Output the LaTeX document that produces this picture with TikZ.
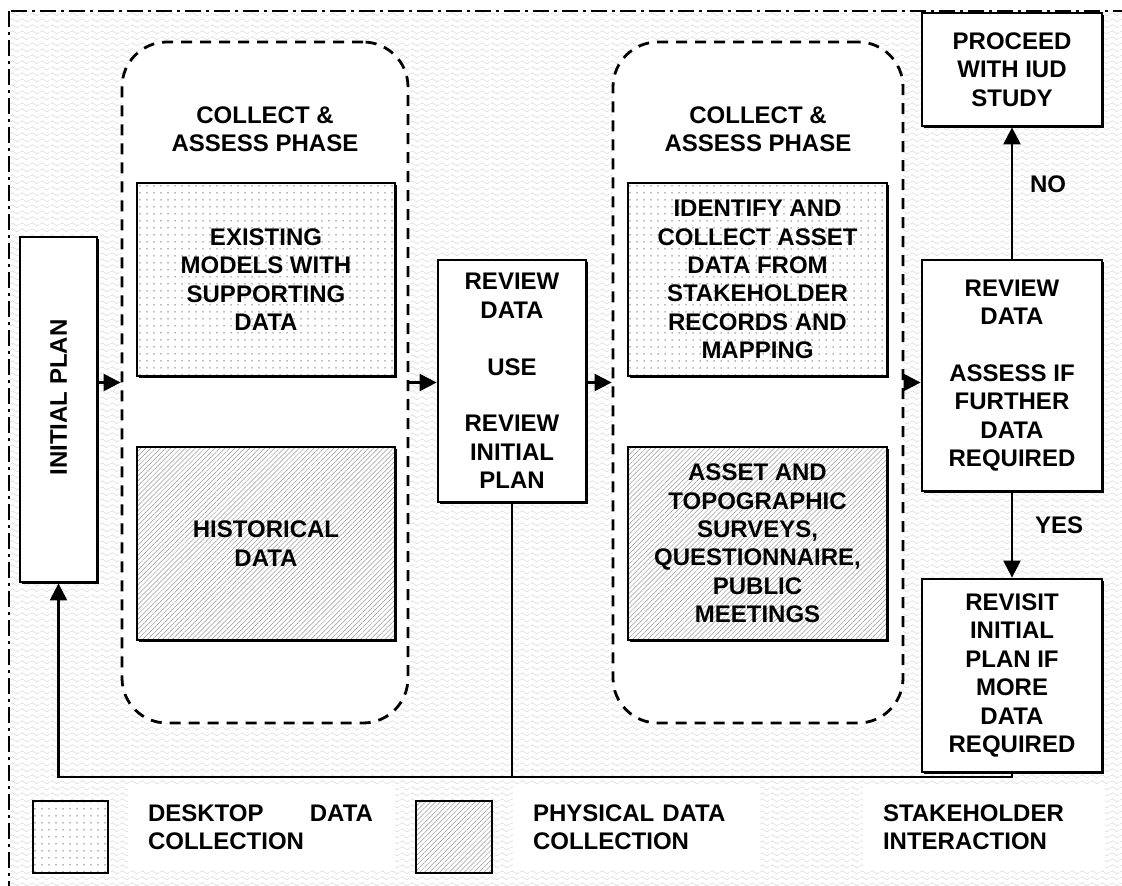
\documentclass[tikz,border=0pt]{standalone}
\usepackage{fontspec}
\usepackage{graphicx}
\setmainfont{Liberation Sans}
\usetikzlibrary{patterns,patterns.meta,arrows.meta,shadows,calc}

\tikzdeclarepattern{
  name=wavy, type=uncolored,
  bounding box={(0pt,0pt) and (10pt,6pt)},
  tile size={(10pt,6pt)},
  code={\draw[line width=0.45pt] (0pt,2pt) .. controls (2.5pt,4.5pt) and (2.5pt,4.5pt) .. (5pt,2pt) .. controls (7.5pt,-0.5pt) and (7.5pt,-0.5pt) .. (10pt,2pt);}
}

\tikzset{
  every node/.style={font=\bfseries\fontsize{24}{28.4}\selectfont, align=center, inner sep=0pt},
  boxbase/.style={draw, line width=2.8pt,
    drop shadow={shadow xshift=1.6pt, shadow yshift=-1.6pt, opacity=1, fill=black},
    preaction={fill=white}},
  box/.style={boxbase},
  desk/.style={boxbase, pattern={Dots[distance=7pt,radius=0.75pt]}, pattern color=black!55},
  phys/.style={boxbase, pattern={Lines[angle=45,distance=3.5pt,line width=0.5pt]}, pattern color=black!40},
  legdesk/.style={draw, line width=2.6pt, preaction={fill=white}, pattern={Dots[distance=7pt,radius=0.75pt]}, pattern color=black!55},
  legphys/.style={draw, line width=2.6pt, preaction={fill=white}, pattern={Lines[angle=45,distance=3.5pt,line width=0.5pt]}, pattern color=black!40},
  legtxt/.style={fill=white, align=left, minimum height=85},
  phase/.style={draw, dash pattern=on 11pt off 8pt, line width=2.8pt, rounded corners=45pt, fill=white},
  conn/.style={line width=2.3pt},
  arr/.style={conn, -{Triangle[length=17pt,width=17pt]}},
  border/.style={line width=2pt, dash pattern=on 16pt off 5pt on 3pt off 5pt},
}

\begin{document}
\begin{tikzpicture}[x=1pt,y=-1pt]
\useasboundingbox (0,0) rectangle (1122,886);
\clip (0,0) rectangle (1122,886);
% background: stakeholder interaction texture
\fill[pattern=wavy, pattern color=black!18] (9,11) rectangle (1135,895);
\draw[border] (9,11) rectangle (1135,895);

% phase containers
\node[phase, minimum width=286, minimum height=681] (ph1) at (265,382.5) {};
\node[phase, minimum width=290, minimum height=681] (ph2) at (758,382.5) {};
\node (t1) at (265,129) {COLLECT \&\\ASSESS PHASE};
\node (t2) at (758,129) {COLLECT \&\\ASSESS PHASE};

% boxes
\node[box, minimum width=77, minimum height=345] (initial) at (58.5,409.5) {};
\node (initialtxt) at ([yshift=12pt]initial.center) {\rotatebox{90}{INITIAL PLAN}};
\node[desk, minimum width=258, minimum height=193] (exist) at (266,279.5) {EXISTING\\MODELS WITH\\SUPPORTING\\DATA};
\node[phys, minimum width=258, minimum height=193] (hist) at (266,543.5) {HISTORICAL\\DATA};
\node[box, minimum width=148, minimum height=242] (review) at (512,381) {REVIEW\\DATA\\[28.4pt]USE\\[28.4pt]REVIEW\\INITIAL\\PLAN};
\node[desk, minimum width=259, minimum height=193] (ident) at (757.5,279.5) {IDENTIFY AND\\COLLECT ASSET\\DATA FROM\\STAKEHOLDER\\RECORDS AND\\MAPPING};
\node[phys, minimum width=259, minimum height=193] (asset) at (757.5,543.5) {ASSET AND\\TOPOGRAPHIC\\SURVEYS,\\QUESTIONNAIRE,\\PUBLIC\\MEETINGS};
\node[box, minimum width=180, minimum height=113] (proceed) at (1012,69.5) {PROCEED\\WITH IUD\\STUDY};
\node[box, minimum width=180, minimum height=231] (review2) at (1012,375.5) {REVIEW\\DATA\\[28.4pt]ASSESS IF\\FURTHER\\DATA\\REQUIRED};
\node[box, minimum width=180, minimum height=193] (revisit) at (1012,675.5) {REVISIT\\INITIAL\\PLAN IF\\MORE\\DATA\\REQUIRED};

% connectors
\draw[arr] (initial.east |- ph1.west) -- (ph1.west);
\draw[arr] (ph1.east) -- (review.west |- ph1.east);
\draw[arr] (review.east |- ph2.west) -- (ph2.west);
\draw[arr] (ph2.east) -- (review2.west |- ph2.east);
\draw[arr] (review2.north) -- node[pos=0.57, right=17pt] (no) {NO} (proceed.south);
\draw[arr] (review2.south) -- node[pos=0.39, right=22pt] (yes) {YES} (revisit.north);
\coordinate (fb) at (0,777);
\draw[arr] (revisit.south) |- (initial.south |- fb) -- (initial.south);
\draw[conn] (review.south) -- (review.south |- fb);

% legend
\node[legdesk, minimum width=75, minimum height=72] (lb1) at (70.5,837) {};
\node[legphys, minimum width=76, minimum height=72] (lb2) at (454,837) {};
\node[legtxt, minimum width=267, text width=227] (lt1) at (261.5,827.5) {\makebox[225pt][l]{DESKTOP\hfill DATA}\\COLLECTION};
\node[legtxt, minimum width=247, text width=207] (lt2) at (636.5,827.5) {PHYSICAL DATA\\COLLECTION};
\node[legtxt, minimum width=242, text width=202] (lt3) at (984,827.5) {STAKEHOLDER\\INTERACTION};
\end{tikzpicture}
\end{document}
